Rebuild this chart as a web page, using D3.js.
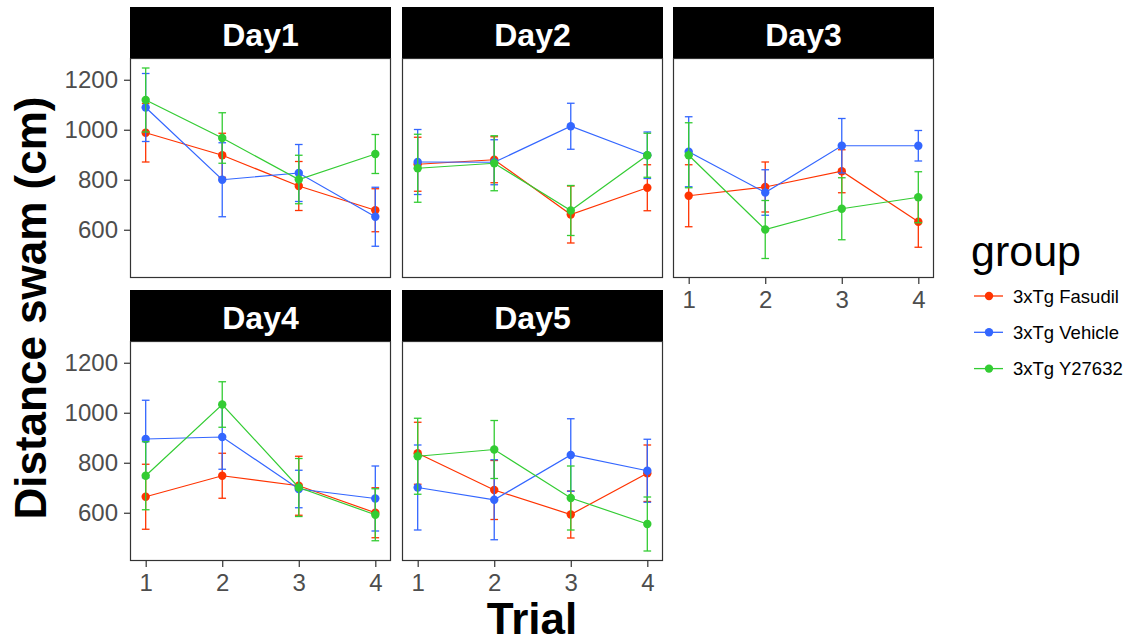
<!DOCTYPE html>
<html><head><meta charset="utf-8">
<script src="https://cdn.jsdelivr.net/npm/d3@7"></script>
<style>body{margin:0;background:#fff}svg{display:block}</style>
</head><body>
<script>
const days = ["Day1","Day2","Day3","Day4","Day5"];
const trials = [1,2,3,4];
const groups = ["3xTg Fasudil","3xTg Vehicle","3xTg Y27632"];
const colors = ["#FF3300","#3366FF","#33CC33"];
const yTicks = [600,800,1000,1200];
// mean distance per day (rows) and trial (cols)
const fasudilMean = [[988,898,775,678],[862,880,661,768],[736,771,834,632],[664,748,708,600],[838,691,593,758]];
const fasudilSE   = [[117,88,98,86],[108,92,114,92],[124,100,86,102],[130,90,118,100],[124,118,94,113]];
const vehicleMean = [[1089,800,827,652],[871,870,1014,898],[912,749,936,936],[895,903,695,657],[701,652,831,768]];
const vehicleSE   = [[136,148,114,118],[130,90,92,93],[140,91,109,61],[155,129,75,130],[170,160,145,126]];
const y27632Mean  = [[1119,967,801,903],[846,866,677,898],[898,601,684,730],[748,1033,701,592],[826,853,659,555]];
const y27632SE    = [[128,101,97,78],[136,110,100,88],[130,116,124,102],[136,91,116,104],[152,116,128,108]];

const means = [fasudilMean, vehicleMean, y27632Mean];
const ses = [fasudilSE, vehicleSE, y27632SE];

const W = 1135, H = 644;
const svg = d3.select("body").append("svg").attr("width", W).attr("height", H);

const colX = [130, 402, 673];
const panelW = 261;
const rowStripTop = [7, 290];
const stripH = 51;
const panelH = 220;

// y domain from data range with 5% expansion
const lo = d3.min(means, (m,g)=>d3.min(m, (r,d)=>d3.min(r,(v,t)=>v - ses[g][d][t])));
const hi = d3.max(means, (m,g)=>d3.max(m, (r,d)=>d3.max(r,(v,t)=>v + ses[g][d][t])));
const ypad = (hi-lo)*0.05;
const xlo = 0.95, xhi = 4.05, xpad = (xhi-xlo)*0.05;
const x = d3.scaleLinear().domain([xlo-xpad, xhi+xpad]).range([0, panelW]);
const y = d3.scaleLinear().domain([lo-ypad, hi+ypad]).range([panelH, 0]);

const font = "'Liberation Sans', Arial, sans-serif";

days.forEach((day, d) => {
  const row = d < 3 ? 0 : 1;
  const col = d % 3;
  const px = colX[col];
  const sTop = rowStripTop[row];
  const pTop = sTop + stripH;
  const g = svg.append("g").attr("transform", `translate(${px},${pTop})`);

  // strip
  svg.append("rect").attr("x", px).attr("y", sTop).attr("width", panelW).attr("height", stripH)
    .attr("fill", "#000");
  svg.append("text").attr("x", px + panelW/2).attr("y", sTop + 38.5)
    .attr("text-anchor", "middle").attr("fill", "#fff").attr("font-family", font)
    .attr("font-weight", "bold").attr("font-size", 32).text(day);

  // series
  groups.forEach((grp, gi) => {
    const vals = means[gi][d];
    const se = ses[gi][d];
    const c = colors[gi];
    const pts = trials.map((t,i)=>({t, v: vals[i], e: se[i]}));
    // error bars
    const eb = g.append("g").attr("stroke", c).attr("stroke-width", 1.3).attr("fill","none");
    pts.forEach(p => {
      const cx = x(p.t), hw = x(p.t+0.05) - x(p.t);
      eb.append("line").attr("x1", cx).attr("x2", cx).attr("y1", y(p.v - p.e)).attr("y2", y(p.v + p.e));
      eb.append("line").attr("x1", cx-hw).attr("x2", cx+hw).attr("y1", y(p.v - p.e)).attr("y2", y(p.v - p.e));
      eb.append("line").attr("x1", cx-hw).attr("x2", cx+hw).attr("y1", y(p.v + p.e)).attr("y2", y(p.v + p.e));
    });
    g.append("path").datum(pts)
      .attr("d", d3.line().x(p=>x(p.t)).y(p=>y(p.v)))
      .attr("fill","none").attr("stroke", c).attr("stroke-width", 1.2);
    g.selectAll(null).data(pts).enter().append("circle")
      .attr("cx", p=>x(p.t)).attr("cy", p=>y(p.v)).attr("r", 4.2).attr("fill", c);
  });

  // border
  g.append("rect").attr("x", 0.5).attr("y", 0.5).attr("width", panelW-1).attr("height", panelH-1)
    .attr("fill","none").attr("stroke","#333").attr("stroke-width", 1.2);

  // y axis on left column
  if (col === 0) {
    const ya = g.append("g").call(d3.axisLeft(y).tickValues(yTicks).tickSize(6).tickPadding(6).tickFormat(d3.format("d")));
    ya.select(".domain").remove();
    ya.selectAll("line").attr("stroke","#333").attr("stroke-width",1.2);
    ya.selectAll("text").attr("fill","#4d4d4d").attr("font-size",24).attr("font-family",font);
  }
  // x axis on bottom panels (no panel below)
  if (row === 1 || col === 2) {
    const xa = g.append("g").attr("transform", `translate(0,${panelH})`)
      .call(d3.axisBottom(x).tickValues(trials).tickSize(6).tickPadding(7).tickFormat(d3.format("d")));
    xa.select(".domain").remove();
    xa.selectAll("line").attr("stroke","#333").attr("stroke-width",1.2);
    xa.selectAll("text").attr("fill","#4d4d4d").attr("font-size",24).attr("font-family",font);
  }
});

// axis titles
svg.append("text").attr("transform", "translate(46,308) rotate(-90)")
  .attr("text-anchor","middle").attr("font-family",font).attr("font-weight","bold")
  .attr("font-size",44).attr("fill","#000").text("Distance swam (cm)");
svg.append("text").attr("x", 532).attr("y", 634)
  .attr("text-anchor","middle").attr("font-family",font).attr("font-weight","bold")
  .attr("font-size",44).attr("fill","#000").text("Trial");

// legend
svg.append("text").attr("x", 971).attr("y", 266).attr("font-family",font)
  .attr("font-size",43).attr("fill","#000").text("group");
groups.forEach((grp, gi) => {
  const ly = 296 + gi*36.3;
  svg.append("line").attr("x1",974).attr("x2",1003).attr("y1",ly).attr("y2",ly)
    .attr("stroke",colors[gi]).attr("stroke-width",1.3);
  svg.append("circle").attr("cx",989).attr("cy",ly).attr("r",4.2).attr("fill",colors[gi]);
  svg.append("text").attr("x",1013).attr("y",ly+6.5).attr("font-family",font)
    .attr("font-size",18.5).attr("fill","#000").text(grp);
});
</script>
</body></html>
